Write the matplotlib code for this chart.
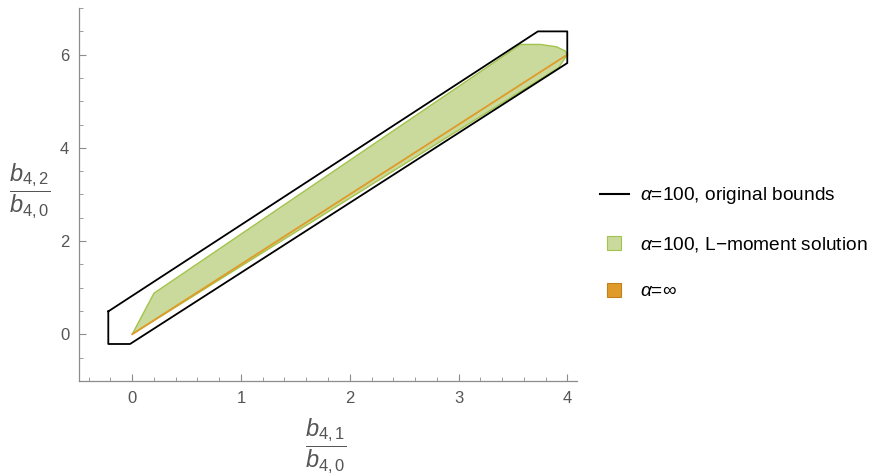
import matplotlib.pyplot as plt
from matplotlib.lines import Line2D
from matplotlib.ticker import MultipleLocator

# Original bounds polygon (alpha = 100)
bounds_x = [-0.22, -0.22, -0.02, 4.0, 4.0, 3.73, -0.22]
bounds_y = [0.49, -0.21, -0.21, 5.82, 6.5, 6.5, 0.49]

# L-moment solution region (alpha = 100)
lmom_x = [0.0, 0.2, 3.57, 3.75, 3.9, 3.98, 4.0, 3.92, 0.0]
lmom_y = [0.0, 0.88, 6.22, 6.22, 6.17, 6.08, 6.0, 5.72, 0.0]

# Limit alpha -> infinity
inf_x = [0.0, 4.0]
inf_y = [0.0, 6.0]

green_fill = "#c9da9c"
green_edge = "#a3c44c"
orange = "#e09a28"
gray = "#8c8c8c"
label_gray = "#555555"

plt.rcParams["font.family"] = ["Liberation Sans", "DejaVu Sans"]
plt.rcParams["mathtext.fontset"] = "custom"
plt.rcParams["mathtext.rm"] = "Liberation Sans"
plt.rcParams["mathtext.it"] = "Liberation Sans:italic"
plt.rcParams["mathtext.fallback"] = "stixsans"

fig = plt.figure(figsize=(8.77, 4.76), dpi=100)
ax = fig.add_axes([0.090, 0.200, 0.568, 0.783])

ax.fill(lmom_x, lmom_y, facecolor=green_fill, edgecolor=green_edge, linewidth=1.0)
ax.plot(inf_x, inf_y, color=orange, linewidth=1.3)
ax.plot(bounds_x, bounds_y, color="black", linewidth=1.3)

ax.set_xlim(-0.49, 4.09)
ax.set_ylim(-1.0, 7.0)

ax.xaxis.set_major_locator(MultipleLocator(1))
ax.xaxis.set_minor_locator(MultipleLocator(0.2))
ax.yaxis.set_major_locator(MultipleLocator(2))
ax.yaxis.set_minor_locator(MultipleLocator(0.5))
ax.tick_params(which="both", direction="in", color=gray, labelcolor=label_gray,
               labelsize=12)
ax.tick_params(which="major", length=5, width=0.8, pad=7)
ax.tick_params(which="minor", length=3, width=0.6)

for side in ("top", "right"):
    ax.spines[side].set_visible(False)
for side in ("left", "bottom"):
    ax.spines[side].set_color(gray)
    ax.spines[side].set_linewidth(0.9)

fig.text(0.034, 0.597, r"$\dfrac{b_{4,2}}{b_{4,0}}$", fontsize=17,
         color=label_gray, ha="center", va="center")
fig.text(0.372, 0.063, r"$\dfrac{b_{4,1}}{b_{4,0}}$", fontsize=17,
         color=label_gray, ha="center", va="center")

handles = [
    Line2D([0], [0], color="black", linewidth=1.5),
    Line2D([0], [0], linestyle="none", marker="s", markersize=10,
           markerfacecolor=green_fill, markeredgecolor=green_edge, markeredgewidth=0.8),
    Line2D([0], [0], linestyle="none", marker="s", markersize=10,
           markerfacecolor=orange, markeredgecolor="#c08020", markeredgewidth=0.8),
]
labels = [r"$\alpha$=100, original bounds",
          r"$\alpha$=100, L$-$moment solution",
          r"$\alpha$=$\infty$"]
fig.legend(handles, labels, loc="center left", bbox_to_anchor=(0.684, 0.49),
           frameon=False, fontsize=13.8, labelspacing=1.5, borderpad=0,
           borderaxespad=0, handlelength=1.5, handletextpad=0.6)

plt.savefig("out.png", dpi=100)
